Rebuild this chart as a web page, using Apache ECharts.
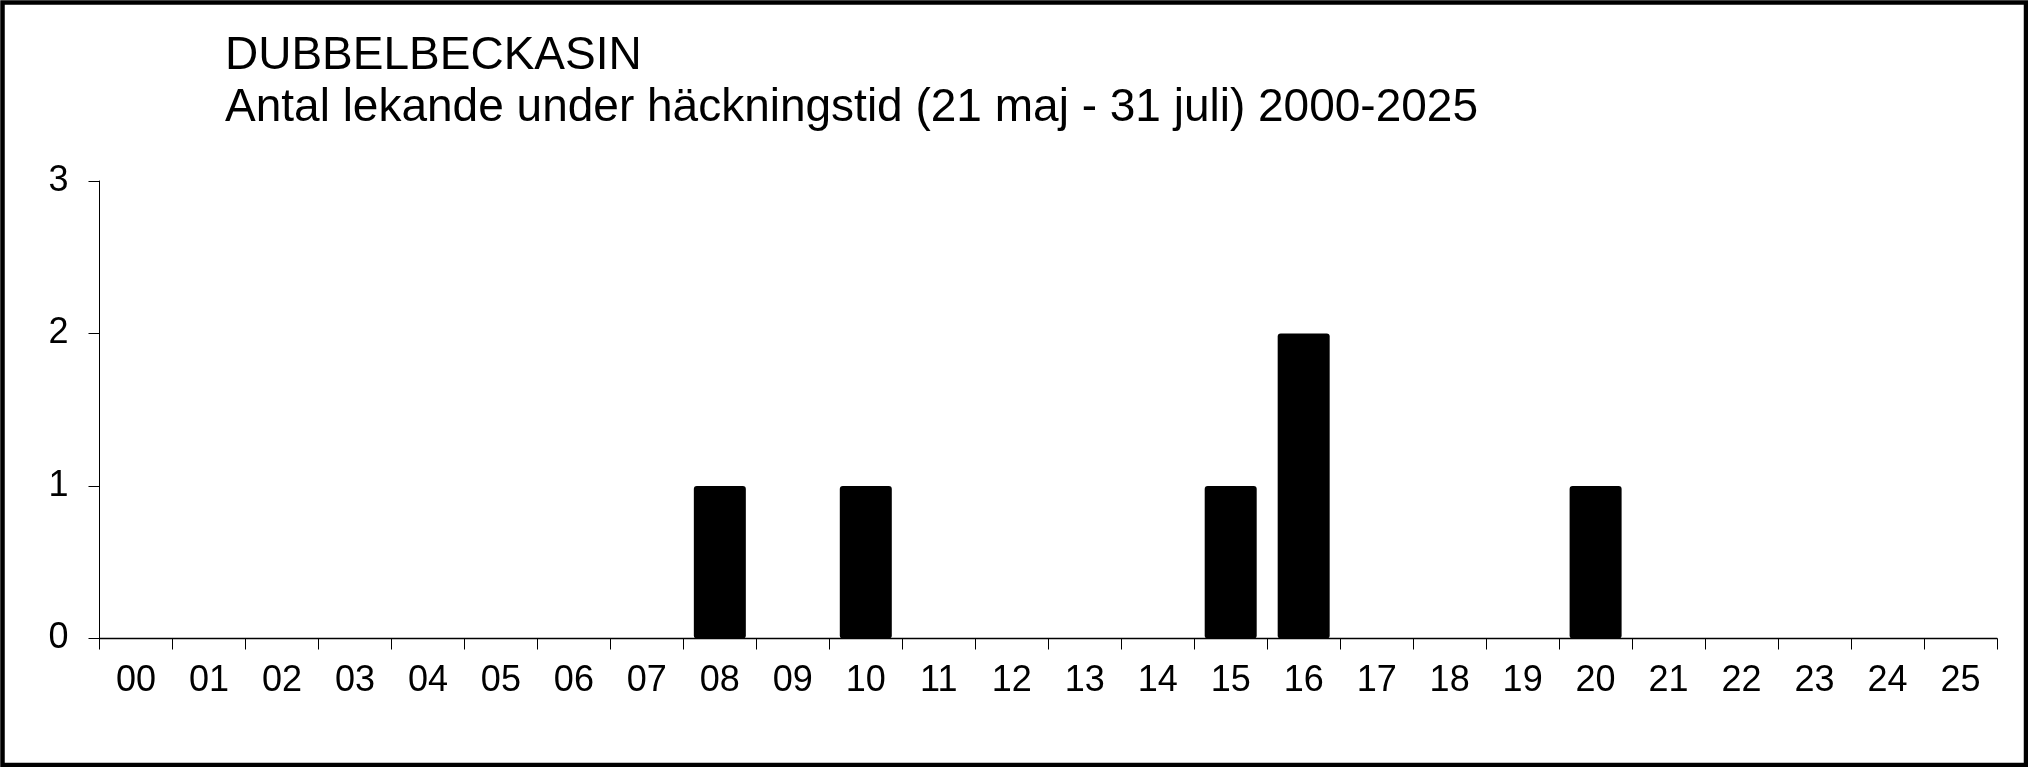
<!DOCTYPE html>
<html>
<head>
<meta charset="utf-8">
<script src="https://cdn.jsdelivr.net/npm/echarts@6/dist/echarts.min.js"></script>
<style>
html,body{margin:0;padding:0;background:#fff;}
#c{width:2028px;height:767px;}
</style>
</head>
<body>
<div id="c"></div>
<script>
const titleLine1 = 'DUBBELBECKASIN';
const titleLine2 = 'Antal lekande under häckningstid (21 maj - 31 juli) 2000-2025';
const years = ['00','01','02','03','04','05','06','07','08','09','10','11','12','13','14','15','16','17','18','19','20','21','22','23','24','25'];
const counts = [0,0,0,0,0,0,0,0,1,0,1,0,0,0,0,1,2,0,0,0,1,0,0,0,0,0];
const yTicks = [0,1,2,3];

const chart = echarts.init(document.getElementById('c'), null, {renderer:'canvas'});
const font = 'Arial, "Liberation Sans", sans-serif';
chart.setOption({
  animation:false,
  backgroundColor:'#fff',
  title:{
    text: titleLine1 + '\n' + titleLine2,
    left: 225, top: 30, padding: 0,
    textStyle:{fontFamily:font, fontSize:46, fontWeight:'normal', color:'#000', lineHeight:52}
  },
  graphic:[{
    type:'rect', left:0, top:0, silent:true, z:100,
    shape:{x:2.25, y:2.25, width:2023.5, height:762.5},
    style:{fill:'none', stroke:'#000', lineWidth:4.5}
  }],
  grid:{left:99.5, right:31, top:181, bottom:128.5},
  xAxis:{
    type:'category', data:years, boundaryGap:true,
    axisLine:{lineStyle:{color:'#000', width:1.3}},
    axisTick:{show:true, length:11, inside:false, alignWithLabel:false, lineStyle:{color:'#000', width:1}},
    axisLabel:{fontFamily:font, fontSize:36, color:'#000', margin:25, interval:0}
  },
  yAxis:{
    type:'value', min:yTicks[0], max:yTicks[yTicks.length-1], interval:1,
    splitLine:{show:false},
    axisLine:{show:true, lineStyle:{color:'#000', width:1}},
    axisTick:{show:true, length:11, lineStyle:{color:'#000', width:1}},
    axisLabel:{fontFamily:font, fontSize:36, color:'#000', margin:31}
  },
  series:[{
    type:'bar', data:counts, barWidth:52,
    itemStyle:{color:'#000', borderRadius:3}
  }]
});
</script>
</body>
</html>
